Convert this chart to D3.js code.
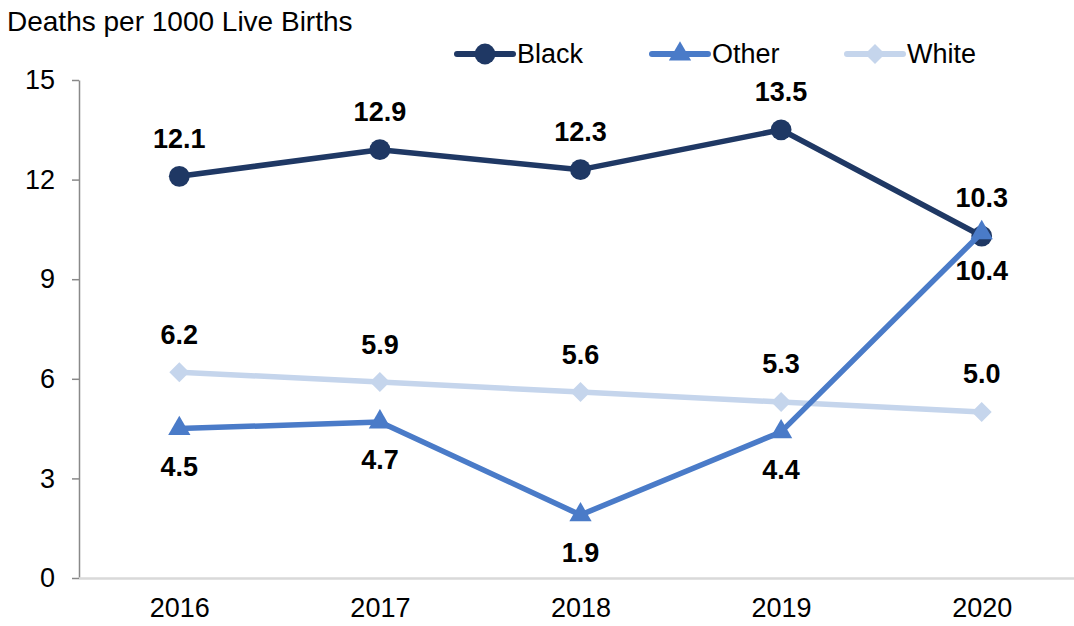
<!DOCTYPE html>
<html>
<head>
<meta charset="utf-8">
<script src="https://cdn.jsdelivr.net/npm/d3@7"></script>
<style>
  html, body { margin: 0; padding: 0; background: #fff; }
  svg { display: block; font-family: "Liberation Sans", Arial, sans-serif; }
</style>
</head>
<body>
<svg id="chart" width="1074" height="626"></svg>
<script>
// Infant deaths per 1000 live births, by race
const years = ["2016", "2017", "2018", "2019", "2020"];
const black = [12.1, 12.9, 12.3, 13.5, 10.3];
const other = [4.5, 4.7, 1.9, 4.4, 10.4];
const white = [6.2, 5.9, 5.6, 5.3, 5.0];
const yTicks = [0, 3, 6, 9, 12, 15];

const diamond = { draw(ctx, size) { const r = Math.sqrt(size / 2); ctx.moveTo(0, -r); ctx.lineTo(r, 0); ctx.lineTo(0, r); ctx.lineTo(-r, 0); ctx.closePath(); } };

const series = [
  { name: "Black", values: black, color: "#1f3864", symbol: d3.symbolCircle, size: 340, labelPos: "above" },
  { name: "Other", values: other, color: "#4a7bc8", symbol: d3.symbolTriangle, size: 215, labelPos: "below" },
  { name: "White", values: white, color: "#c5d5ec", symbol: diamond, size: 200, labelPos: "above" }
];

const svg = d3.select("#chart");
const plotLeft = 79, plotRight = 1082, plotTop = 80, plotBottom = 578;
const fontFam = "Liberation Sans, Arial, sans-serif";

const x = d3.scalePoint().domain(years).range([plotLeft, plotRight]).padding(0.5);
const y = d3.scaleLinear().domain([0, 15]).range([plotBottom, plotTop]);

// Y axis title
svg.append("text")
  .attr("x", 7).attr("y", 31)
  .attr("font-size", 28).attr("fill", "#000")
  .text("Deaths per 1000 Live Births");

// Y axis
const yAxis = svg.append("g")
  .attr("transform", `translate(${plotLeft},0)`)
  .call(d3.axisLeft(y).tickValues(yTicks).tickSize(7).tickSizeOuter(0).tickPadding(17));
yAxis.select(".domain").attr("stroke", "#898989").attr("stroke-width", 1.5);
yAxis.selectAll(".tick line").attr("stroke", "#898989").attr("stroke-width", 1.5);
yAxis.selectAll(".tick text").attr("font-size", 27).attr("fill", "#000").attr("font-family", fontFam);

// X axis
const xAxis = svg.append("g")
  .attr("transform", `translate(0,${plotBottom})`)
  .call(d3.axisBottom(x).tickSize(0).tickPadding(20));
xAxis.select(".domain").attr("d", `M${plotLeft},0.5H1074`).attr("stroke", "#d9d9d9").attr("stroke-width", 2.5);
xAxis.selectAll(".tick text").attr("font-size", 27).attr("fill", "#000").attr("font-family", fontFam);

const line = d3.line().x((d, i) => x(years[i])).y(d => y(d));

// Draw White first, then Black, then Other so the triangle sits above the circle at 2020
const drawOrder = [series[2], series[0], series[1]];
drawOrder.forEach(s => {
  const g = svg.append("g");
  g.append("path")
    .attr("d", line(s.values))
    .attr("fill", "none")
    .attr("stroke", s.color)
    .attr("stroke-width", 5.5)
    .attr("stroke-linejoin", "round")
    .attr("stroke-linecap", "round");
  g.selectAll("path.marker")
    .data(s.values)
    .join("path")
    .attr("class", "marker")
    .attr("transform", (d, i) => `translate(${x(years[i])},${y(d)})`)
    .attr("d", d3.symbol().type(s.symbol).size(s.size))
    .attr("fill", s.color);
});

// Value labels
series.forEach(s => {
  svg.append("g").selectAll("text")
    .data(s.values)
    .join("text")
    .attr("x", (d, i) => x(years[i]))
    .attr("y", d => y(d) + (s.labelPos === "above" ? -38 : 38))
    .attr("dy", "0.35em")
    .attr("text-anchor", "middle")
    .attr("font-size", 27)
    .attr("font-weight", "bold")
    .attr("fill", "#000")
    .text(d => d.toFixed(1));
});

// Legend
const legendX = [457, 652, 847];
const legendY = 54;
series.forEach((s, i) => {
  const g = svg.append("g").attr("transform", `translate(${legendX[i]},${legendY})`);
  g.append("line")
    .attr("x1", 0).attr("x2", 56).attr("y1", 0).attr("y2", 0)
    .attr("stroke", s.color).attr("stroke-width", 6).attr("stroke-linecap", "round");
  g.append("path")
    .attr("transform", "translate(28,0)")
    .attr("d", d3.symbol().type(s.symbol).size(s.size))
    .attr("fill", s.color);
  g.append("text")
    .attr("x", 60).attr("y", 0).attr("dy", "0.35em")
    .attr("font-size", 27).attr("fill", "#000")
    .text(s.name);
});
</script>
</body>
</html>
